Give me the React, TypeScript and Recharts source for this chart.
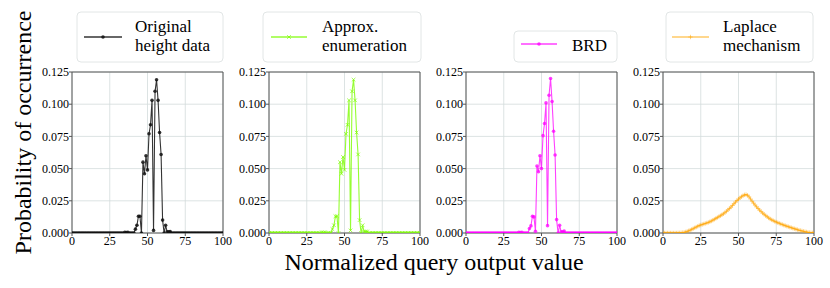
import React from 'react';
import { LineChart, Line, XAxis, YAxis, CartesianGrid, ReferenceArea } from 'recharts';

// ---------- data ----------
const xValues = [
  0, 1, 2, 3, 4, 5, 6, 7, 8, 9,
  10, 11, 12, 13, 14, 15, 16, 17, 18, 19,
  20, 21, 22, 23, 24, 25, 26, 27, 28, 29,
  30, 31, 32, 33, 34, 35, 36, 37, 38, 39,
  40, 41, 42, 43, 44, 45, 46, 47, 48, 49,
  50, 51, 52, 53, 54, 55, 56, 57, 58, 59,
  60, 61, 62, 63, 64, 65, 66, 67, 68, 69,
  70, 71, 72, 73, 74, 75, 76, 77, 78, 79,
  80, 81, 82, 83, 84, 85, 86, 87, 88, 89,
  90, 91, 92, 93, 94, 95, 96, 97, 98, 99,
  100,
];

const originalHeight = [
  0, 0, 0, 0, 0, 0, 0, 0, 0, 0,
  0, 0, 0, 0, 0, 0, 0, 0, 0, 0,
  0, 0, 0, 0, 0, 0, 0, 0, 0, 0,
  0, 0, 0, 0, 0, 0.0005, 0.0004, 0.0005, 0, 0,
  0, 0, 0.003, 0.006, 0.013, 0.013, 0, 0.055, 0.046, 0.06,
  0.049, 0.077, 0.084, 0.103, 0.002, 0.11, 0.119, 0.103, 0.078, 0.061,
  0.01, 0, 0.006, 0.001, 0.001, 0.0012, 0, 0, 0, 0,
  0, 0, 0, 0, 0, 0, 0, 0, 0, 0,
  0, 0, 0, 0, 0, 0, 0, 0, 0, 0,
  0, 0, 0, 0, 0, 0, 0, 0, 0, 0,
  0,
];

const approxEnumeration = [
  0, 0, 0, 0, 0, 0, 0, 0, 0, 0,
  0, 0, 0, 0, 0, 0, 0, 0, 0, 0,
  0, 0, 0, 0, 0, 0, 0, 0, 0, 0,
  0, 0, 0, 0, 0, 0.0005, 0.0004, 0.0005, 0, 0,
  0, 0, 0.003, 0.006, 0.013, 0.013, 0, 0.055, 0.046, 0.059,
  0.049, 0.077, 0.084, 0.103, 0.002, 0.11, 0.119, 0.103, 0.078, 0.061,
  0.01, 0, 0.006, 0.001, 0.001, 0.0012, 0, 0, 0, 0,
  0, 0, 0, 0, 0, 0, 0, 0, 0, 0,
  0, 0, 0, 0, 0, 0, 0, 0, 0, 0,
  0, 0, 0, 0, 0, 0, 0, 0, 0, 0,
  0,
];

const brd = [
  0, 0, 0, 0, 0, 0, 0, 0, 0, 0,
  0, 0, 0, 0, 0, 0, 0, 0, 0, 0,
  0, 0, 0, 0, 0, 0, 0, 0, 0, 0,
  0, 0, 0, 0, 0, 0.0005, 0.0003, 0.0005, 0, 0,
  0, 0, 0.0034, 0.0055, 0.013, 0.0125, 0.0013, 0.052, 0.0476, 0.06,
  0.05, 0.0756, 0.085, 0.101, 0.0057, 0.107, 0.12, 0.102, 0.079, 0.0606,
  0.0104, 0, 0.006, 0.001, 0.001, 0.0015, 0, 0, 0, 0,
  0, 0, 0, 0, 0, 0, 0, 0, 0, 0,
  0, 0, 0, 0, 0, 0, 0, 0, 0, 0,
  0, 0, 0, 0, 0, 0, 0, 0, 0, 0,
  0,
];

const laplaceMechanism = [
  0, 0, 0, 0, 0, 0, 0, 0, 0, 0,
  0.0001, 0.0001, 0.0002, 0.0003, 0.0005, 0.0008, 0.0012, 0.0017, 0.0022, 0.0028,
  0.0034, 0.004, 0.0046, 0.0052, 0.0058, 0.0062, 0.0066, 0.007, 0.0074, 0.0078,
  0.0082, 0.0087, 0.0093, 0.0099, 0.0106, 0.0113, 0.012, 0.0127, 0.0134, 0.0141,
  0.0149, 0.0158, 0.0168, 0.0179, 0.019, 0.0201, 0.0214, 0.0227, 0.024, 0.0252,
  0.0263, 0.0273, 0.0282, 0.029, 0.0296, 0.0298, 0.0293, 0.028, 0.0264, 0.0247,
  0.0232, 0.0217, 0.0203, 0.019, 0.0178, 0.0166, 0.0155, 0.0145, 0.0135, 0.0126,
  0.0117, 0.0109, 0.0102, 0.0096, 0.009, 0.0085, 0.008, 0.0075, 0.007, 0.0066,
  0.0061, 0.0057, 0.0053, 0.0049, 0.0045, 0.0041, 0.0037, 0.0033, 0.003, 0.0026,
  0.0022, 0.0019, 0.0016, 0.0013, 0.001, 0.0008, 0.0005, 0.0003, 0.0002, 0.0001,
  0,
];

const xTicks = [0, 25, 50, 75, 100];
const yTicks = [0, 0.025, 0.05, 0.075, 0.1, 0.125];

const legendOriginal = ['Original', 'height data'];
const legendApprox = ['Approx.', 'enumeration'];
const legendBrd = ['BRD'];
const legendLaplace = ['Laplace', 'mechanism'];

const xAxisLabel = 'Normalized query output value';
const yAxisLabel = 'Probability of occurrence';

// ---------- styling / layout ----------
const FONT = "'Liberation Serif', 'Times New Roman', Times, serif";
const PLOT_W = 151;
const Y_AXIS_W = 50;
const RIGHT_PAD = 14;
const CHART_W = Y_AXIS_W + PLOT_W + RIGHT_PAD;
const CHART_H = 288;
const PLOT_TOP = 72;
const X_AXIS_H = 55;

type Marker = 'dot' | 'x' | 'plus';

interface Panel {
  id: string;
  values: number[];
  color: string;
  opacity: number;
  marker: Marker;
  legend: string[];
  plotLeft: number;
  legendBox: { x: number; y: number; w: number; h: number };
  legendLine: { x1: number; x2: number; y: number };
  legendTextX: number;
  legendBaselines: number[];
}

const panels: Panel[] = [
  {
    id: 'orig', values: originalHeight, color: '#111111', opacity: 0.85, marker: 'dot',
    legend: legendOriginal, plotLeft: 72,
    legendBox: { x: 77, y: 12, w: 146, h: 50 },
    legendLine: { x1: 84, x2: 122, y: 37 }, legendTextX: 135, legendBaselines: [31.5, 50.5],
  },
  {
    id: 'approx', values: approxEnumeration, color: '#7cfc00', opacity: 0.8, marker: 'x',
    legend: legendApprox, plotLeft: 269,
    legendBox: { x: 263, y: 12, w: 158, h: 50 },
    legendLine: { x1: 271, x2: 307, y: 37 }, legendTextX: 322, legendBaselines: [31.5, 50.5],
  },
  {
    id: 'brd', values: brd, color: '#ff00ff', opacity: 0.75, marker: 'dot',
    legend: legendBrd, plotLeft: 466,
    legendBox: { x: 514, y: 31, w: 103, h: 31 },
    legendLine: { x1: 521, x2: 557, y: 44 }, legendTextX: 572, legendBaselines: [51],
  },
  {
    id: 'laplace', values: laplaceMechanism, color: '#ffa500', opacity: 0.6, marker: 'plus',
    legend: legendLaplace, plotLeft: 663,
    legendBox: { x: 666, y: 12, w: 147, h: 50 },
    legendLine: { x1: 672, x2: 709, y: 37 }, legendTextX: 723, legendBaselines: [31.5, 50.5],
  },
];

function markerShape(marker: Marker, cx: number, cy: number, color: string, opacity: number, key?: React.Key) {
  if (cx == null || cy == null || isNaN(cx) || isNaN(cy)) return <g key={key} />;
  if (marker === 'dot') {
    return <circle key={key} cx={cx} cy={cy} r={1.8} fill={color} fillOpacity={opacity} />;
  }
  if (marker === 'x') {
    const s = 1.8;
    return (
      <path
        key={key}
        d={`M${cx - s},${cy - s}L${cx + s},${cy + s}M${cx - s},${cy + s}L${cx + s},${cy - s}`}
        stroke={color}
        strokeOpacity={opacity}
        strokeWidth={0.9}
        fill="none"
      />
    );
  }
  const s = 2.2;
  return (
    <path
      key={key}
      d={`M${cx - s},${cy}L${cx + s},${cy}M${cx},${cy - s}L${cx},${cy + s}`}
      stroke={color}
      strokeOpacity={opacity}
      strokeWidth={0.8}
      fill="none"
    />
  );
}

const tickStyle = { fontSize: 12, fill: '#000', fontFamily: FONT, style: { fontFamily: FONT } };

function PanelChart({ panel }: { panel: Panel }) {
  const rows = xValues.map((x, i) => ({ x, y: panel.values[i] }));
  return (
    <div style={{ position: 'absolute', left: panel.plotLeft - Y_AXIS_W, top: 0, fontFamily: FONT }}>
      <LineChart
        width={CHART_W}
        height={CHART_H}
        data={rows}
        margin={{ top: PLOT_TOP, right: RIGHT_PAD, bottom: 0, left: 0 }}
        style={{ fontFamily: FONT }}
      >
        <CartesianGrid stroke="#d3dcdc" strokeWidth={0.8} />
        <XAxis
          dataKey="x"
          type="number"
          domain={[0, 100]}
          ticks={xTicks}
          interval={0}
          height={X_AXIS_H}
          tickSize={3}
          tickMargin={0}
          axisLine={false}
          tickLine={{ stroke: '#555' }}
          tick={tickStyle}
          allowDataOverflow
        />
        <YAxis
          type="number"
          domain={[0, 0.125]}
          ticks={yTicks}
          interval={0}
          width={Y_AXIS_W}
          tickSize={3}
          tickMargin={0}
          axisLine={false}
          tickLine={{ stroke: '#555' }}
          tick={tickStyle}
          tickFormatter={(v: number) => v.toFixed(3)}
          allowDataOverflow
        />
        <ReferenceArea x1={0} x2={100} y1={0} y2={0.125} fill="none" stroke="#555" strokeWidth={1} />
        <Line
          type="linear"
          dataKey="y"
          stroke={panel.color}
          strokeOpacity={panel.opacity}
          strokeWidth={1.1}
          isAnimationActive={false}
          activeDot={false}
          dot={(p: any) => markerShape(panel.marker, p.cx, p.cy, panel.color, panel.opacity, `m-${panel.id}-${p.index}`)}
        />
      </LineChart>
    </div>
  );
}

function Overlay() {
  return (
    <svg
      width={830}
      height={288}
      style={{ position: 'absolute', left: 0, top: 0, pointerEvents: 'none', fontFamily: FONT }}
    >
      {panels.map((p) => {
        const mx = (p.legendLine.x1 + p.legendLine.x2) / 2;
        return (
          <g key={`leg-${p.id}`}>
            <rect
              x={p.legendBox.x}
              y={p.legendBox.y}
              width={p.legendBox.w}
              height={p.legendBox.h}
              rx={4}
              ry={4}
              fill="#fff"
              stroke="#e2e6e6"
              strokeWidth={1}
            />
            <line
              x1={p.legendLine.x1}
              x2={p.legendLine.x2}
              y1={p.legendLine.y}
              y2={p.legendLine.y}
              stroke={p.color}
              strokeOpacity={p.opacity}
              strokeWidth={1.3}
            />
            {markerShape(p.marker, mx, p.legendLine.y, p.color, p.opacity)}
            {p.legend.map((t, i) => (
              <text
                key={i}
                x={p.legendTextX}
                y={p.legendBaselines[i]}
                style={{ fontFamily: FONT, fontSize: 17 }}
                fill="#000"
              >
                {t}
              </text>
            ))}
          </g>
        );
      })}
      <text
        x={434}
        y={269.5}
        textAnchor="middle"
        style={{ fontFamily: FONT, fontSize: 24 }}
        fill="#000"
      >
        {xAxisLabel}
      </text>
      <text
        transform="translate(31,132.5) rotate(-90)"
        textAnchor="middle"
        style={{ fontFamily: FONT, fontSize: 24 }}
        fill="#000"
      >
        {yAxisLabel}
      </text>
    </svg>
  );
}

export default function App() {
  return (
    <div
      style={{
        position: 'absolute',
        left: 0,
        top: 0,
        width: 830,
        height: 288,
        background: '#fff',
        overflow: 'hidden',
        fontFamily: FONT,
      }}
    >
      <Overlay />
      {panels.map((p) => (
        <PanelChart key={p.id} panel={p} />
      ))}
    </div>
  );
}
